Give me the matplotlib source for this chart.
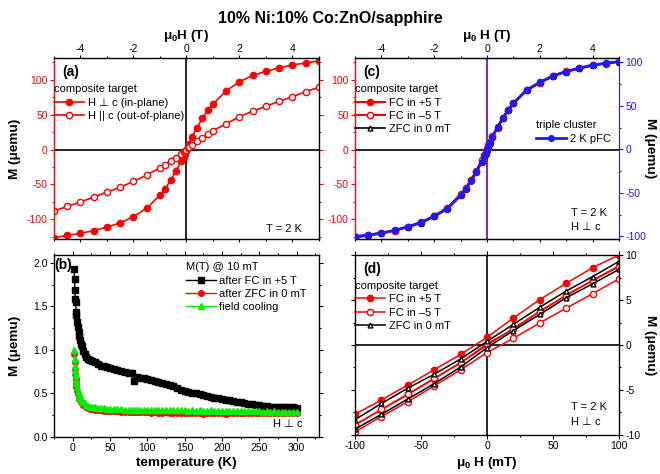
import matplotlib
matplotlib.use('Agg')
import matplotlib.pyplot as plt
from matplotlib import font_manager
from matplotlib.ticker import MultipleLocator, FormatStrFormatter

plt.rcParams['font.family'] = ['Liberation Sans', 'DejaVu Sans']
plt.rcParams['mathtext.default'] = 'regular'
plt.rcParams['axes.unicode_minus'] = False
plt.rcParams['font.size'] = 8

# %% data: (a) M(H) at 2 K, composite target
H_T = [-5, -4.5, -4, -3.5, -3, -2.5, -2, -1.5, -1, -0.8, -0.6, -0.4, -0.2, -0.1, -0.05, 0,
       0.05, 0.1, 0.2, 0.4, 0.6, 0.8, 1, 1.5, 2, 2.5, 3, 3.5, 4, 4.5, 5]
M_inplane = [-126, -123, -120, -116, -111, -105, -96, -84, -65, -56, -44, -31, -17, -10, -6, -2,
             3, 8, 18, 31.5, 44.5, 56, 65, 84, 97, 106, 112, 117, 121, 124, 127]
M_outplane = [-88, -81.5, -75, -68, -61, -54, -45.5, -36.5, -26, -21.5, -17, -12, -7, -4, -2, 0,
              2, 4, 7, 12, 17, 22, 27, 37, 47, 55, 62, 69, 75.5, 83, 89]

# (c) field cooling series + triple cluster (right axis)
M_fc_plus = [-126, -123, -119.5, -116, -111, -105, -95.5, -84.5, -64.5, -56, -44, -32, -17.5, -11, -6, -1,
             4, 9, 18, 31.5, 44.5, 56, 66, 85, 95.5, 105, 111.5, 116, 120.5, 123, 126]
M_fc_minus = [-125, -122, -119, -115.5, -110.5, -104, -95, -83.5, -64, -55, -43, -30, -15, -8, -4, 1,
              6, 11, 19, 32.5, 45.5, 57, 66.5, 85.5, 96.5, 105.5, 112, 116.5, 120.5, 123.5, 126]
M_zfc = [-125.5, -122.5, -119.5, -115.5, -110.5, -104.5, -95, -83.5, -64.5, -55.5, -43.5, -31, -16, -9, -5, 0,
         5, 10, 18.5, 32, 45, 56.5, 66, 85, 96, 105.5, 111.5, 116.5, 120.5, 123.5, 126]
M_triple = [-100, -98.5, -96.5, -93, -89, -84, -77, -68, -53, -45, -36, -25.5, -14, -8, -4, 0,
            4, 8, 14, 25.5, 36, 45, 53, 68, 77, 84.5, 89.5, 93.5, 97, 99, 101]

# (b) M(T) @ 10 mT
T_K = [2, 2.5, 3, 3.5, 4, 4.5, 5, 6, 7, 8, 9, 10, 11, 12, 14, 16, 18, 20, 23, 26, 30, 34, 38, 42, 46, 50,
       55, 60, 65, 70, 75, 80, 82, 86, 90, 95, 100, 105, 110, 115, 120, 125, 130, 135, 140, 145, 150, 155,
       160, 165, 170, 175, 180, 185, 190, 195, 200, 205, 210, 215, 220, 225, 230, 235, 240, 245, 250, 255,
       260, 265, 270, 275, 280, 285, 290, 295, 300]
M_after_fc = [1.93, 1.81, 1.69, 1.59, 1.55, 1.44, 1.40, 1.32, 1.26, 1.21, 1.16, 1.11, 1.07, 1.04, 0.99, 0.95,
              0.92, 0.90, 0.88, 0.87, 0.86, 0.84, 0.82, 0.81, 0.80, 0.79, 0.78, 0.77, 0.76, 0.75, 0.74, 0.73,
              0.64, 0.69, 0.68, 0.675, 0.67, 0.66, 0.645, 0.63, 0.615, 0.605, 0.595, 0.585, 0.565, 0.535,
              0.53, 0.52, 0.51, 0.50, 0.49, 0.48, 0.47, 0.46, 0.45, 0.445, 0.435, 0.43, 0.42, 0.41, 0.405,
              0.40, 0.39, 0.38, 0.375, 0.37, 0.365, 0.36, 0.355, 0.35, 0.35, 0.345, 0.345, 0.34, 0.345,
              0.34, 0.335]
M_after_zfc = [0.95, 0.86, 0.78, 0.72, 0.67, 0.62, 0.58, 0.53, 0.49, 0.46, 0.44, 0.42, 0.40, 0.39, 0.37, 0.355,
               0.345, 0.335, 0.325, 0.32, 0.315, 0.31, 0.305, 0.30, 0.30, 0.30, 0.295, 0.295, 0.29, 0.29,
               0.29, 0.29, 0.285, 0.29, 0.285, 0.285, 0.285, 0.28, 0.285, 0.28, 0.28, 0.285, 0.28, 0.28,
               0.28, 0.28, 0.275, 0.28, 0.28, 0.28, 0.275, 0.265, 0.28, 0.275, 0.28, 0.275, 0.28, 0.265,
               0.275, 0.28, 0.275, 0.275, 0.28, 0.275, 0.275, 0.28, 0.275, 0.275, 0.28, 0.275, 0.275,
               0.28, 0.275, 0.275, 0.28, 0.275, 0.275]
M_field_cool = [1.00, 0.90, 0.82, 0.76, 0.71, 0.66, 0.62, 0.57, 0.53, 0.50, 0.47, 0.45, 0.43, 0.42, 0.40, 0.385,
                0.37, 0.36, 0.35, 0.345, 0.34, 0.335, 0.33, 0.33, 0.325, 0.325, 0.32, 0.32, 0.32, 0.315,
                0.315, 0.315, 0.31, 0.315, 0.31, 0.315, 0.31, 0.31, 0.31, 0.305, 0.31, 0.305, 0.31, 0.305,
                0.305, 0.305, 0.305, 0.30, 0.305, 0.30, 0.305, 0.30, 0.30, 0.305, 0.30, 0.30, 0.30, 0.30,
                0.30, 0.295, 0.30, 0.295, 0.30, 0.295, 0.295, 0.295, 0.295, 0.29, 0.295, 0.29, 0.295,
                0.29, 0.29, 0.29, 0.29, 0.29, 0.29]

# (d) low-field loops
H_mT = [-100, -80, -60, -40, -20, 0, 20, 40, 60, 80, 100]
fcp_up = [-7.7, -6.1, -4.45, -2.75, -1.05, 0.85, 3.0, 5.05, 6.85, 8.6, 10.0]
fcp_down = [-8.85, -7.2, -5.5, -3.75, -1.95, -0.05, 1.85, 3.75, 5.55, 7.2, 8.8]
fcm_up = [-8.9, -7.15, -5.45, -3.7, -2.0, 0.15, 1.75, 3.7, 5.5, 7.15, 8.7]
fcm_down = [-9.65, -7.95, -6.3, -4.55, -2.75, -0.85, 0.75, 2.45, 4.1, 5.7, 7.35]
zfc_up = [-8.3, -6.5, -4.8, -3.25, -1.55, 0.4, 2.3, 4.2, 6.0, 7.6, 9.3]
zfc_down = [-9.35, -7.7, -6.0, -4.3, -2.45, -0.3, 1.6, 3.4, 5.25, 6.8, 8.4]

RED = '#ff0000'
BLUE = '#1a1aff'
GREEN = '#00ee00'
TICK_FS = 7.5
LAB_FS = 9.7

try:
    font_manager.findfont('Liberation Sans Narrow', fallback_to_default=False)
    title_font = dict(family=['Liberation Sans Narrow', 'DejaVu Sans'], fontsize=13)
except ValueError:
    title_font = dict(fontsize=11.5)


def style(ax):
    ax.tick_params(which='both', direction='out', top=True, bottom=True, left=True, right=True,
                   labelsize=TICK_FS, width=0.8, pad=1.5)
    ax.tick_params(which='major', length=3)
    ax.tick_params(which='minor', length=1.6)
    for s in ax.spines.values():
        s.set_linewidth(1.0)


def top_axis(ax, label):
    ax.tick_params(labeltop=True, labelbottom=False)
    ax.tick_params(axis='x', which='major', pad=0.6, length=2.5)
    ax.xaxis.set_label_position('top')
    ax.set_xlabel(label, fontsize=LAB_FS, fontweight='bold')
    ax.xaxis.set_label_coords(0.5, 1.075)
    ax.xaxis.label.set_va('bottom')


fig = plt.figure(figsize=(6.6, 4.74), dpi=100)
fig.text(0.5, 0.962, '10% Ni:10% Co:ZnO/sapphire', ha='center', va='center',
         fontweight='bold', **title_font)

leg_kw = dict(frameon=False, fontsize=8, handlelength=2.7, handletextpad=0.3, labelspacing=0.3,
              borderaxespad=0.2, borderpad=0.2, alignment='left', title_fontsize=8)

# %% (a)
ax = fig.add_axes([0.0818, 0.4958, 0.4015, 0.3818])
style(ax)
ax.axhline(0, color='k', lw=1.2)
ax.axvline(0, color='k', lw=1.2)
ax.plot(H_T, M_inplane, '-o', color=RED, ms=4.5, lw=1.2, label='H ⊥ c (in-plane)')
ax.plot(H_T, M_outplane, '-o', color=RED, mfc='white', ms=4.5, lw=1.2, label='H || c (out-of-plane)')
ax.set_xlim(-5, 5)
ax.set_ylim(-128, 131)
ax.xaxis.set_major_locator(MultipleLocator(2))
ax.xaxis.set_minor_locator(MultipleLocator(1))
ax.yaxis.set_major_locator(MultipleLocator(50))
ax.yaxis.set_minor_locator(MultipleLocator(25))
top_axis(ax, 'μ$_0$H (T)')
ax.set_ylabel('M (μemu)', fontsize=LAB_FS, fontweight='bold', va='center')
ax.yaxis.set_label_coords(-0.147, 0.5)
ax.spines['left'].set_color(RED)
ax.tick_params(axis='y', which='both', colors=RED, right=True)
ax.text(0.03, 0.925, '(a)', transform=ax.transAxes, fontsize=10, fontweight='bold', va='center')
ax.legend(loc='upper left', bbox_to_anchor=(-0.015, 0.88), title='composite target', **leg_kw)
ax.text(0.936, 0.055, 'T = 2 K', transform=ax.transAxes, ha='right', va='center', fontsize=8)

# %% (c)
ax = fig.add_axes([0.5379, 0.4958, 0.4, 0.3818])
style(ax)
ax.axhline(0, color='k', lw=1.2)
ax.axvline(0, color='#7030c0', lw=1.5)
ax.plot(H_T, M_fc_plus, '-o', color=RED, ms=4.5, lw=1.5, label='FC in +5 T')
ax.plot(H_T, M_fc_minus, '-o', color=RED, mfc='white', ms=4.5, lw=1.5, label='FC in –5 T')
ax.plot(H_T, M_zfc, '-^', color='k', mfc='white', ms=3.5, lw=1.2, label='ZFC in 0 mT')
ax.set_xlim(-5, 5)
ax.set_ylim(-128, 131)
ax.xaxis.set_major_locator(MultipleLocator(2))
ax.xaxis.set_minor_locator(MultipleLocator(1))
ax.yaxis.set_major_locator(MultipleLocator(50))
ax.yaxis.set_minor_locator(MultipleLocator(25))
top_axis(ax, 'μ$_0$ H (T)')
ax.spines['left'].set_color(RED)
ax.spines['right'].set_visible(False)
ax.tick_params(axis='y', which='both', colors=RED, right=False)
ax.text(0.03, 0.925, '(c)', transform=ax.transAxes, fontsize=10, fontweight='bold', va='center')
ax.legend(loc='upper left', bbox_to_anchor=(-0.015, 0.88), title='composite target', **leg_kw)
ax.text(0.82, 0.145, 'T = 2 K', transform=ax.transAxes, ha='left', va='center', fontsize=8)
ax.text(0.82, 0.065, 'H ⊥ c', transform=ax.transAxes, ha='left', va='center', fontsize=8)

ax2 = ax.twinx()
ax2.plot(H_T, M_triple, '-o', color=BLUE, ms=4, lw=2, label='2 K pFC')
ax2.set_ylim(-103, 105)
ax2.yaxis.set_major_locator(MultipleLocator(50))
ax2.yaxis.set_minor_locator(MultipleLocator(25))
ax2.tick_params(which='both', direction='out', labelsize=TICK_FS, width=0.8, pad=1.5, colors=BLUE)
ax2.tick_params(which='major', length=3)
ax2.tick_params(which='minor', length=1.6)
ax2.spines['right'].set_color(BLUE)
ax2.spines['left'].set_visible(False)
ax2.set_ylabel('M (μemu)', fontsize=LAB_FS, fontweight='bold', rotation=270, color='k', va='center')
ax2.yaxis.set_label_coords(1.117, 0.5)
ax2.legend(loc='upper right', bbox_to_anchor=(0.985, 0.68), title='triple cluster', **leg_kw)

# %% (b)
ax = fig.add_axes([0.0818, 0.078, 0.4015, 0.384])
style(ax)
ax.plot(T_K, M_after_fc, '-s', color='k', ms=4, lw=1, label='after FC in +5 T')
ax.plot(T_K, M_after_zfc, '-o', color=RED, ms=4, lw=1, label='after ZFC in 0 mT')
ax.plot(T_K, M_field_cool, '-^', color=GREEN, ms=4, lw=1, label='field cooling')
ax.set_xlim(-25, 330)
ax.set_ylim(0, 2.09)
ax.xaxis.set_major_locator(MultipleLocator(50))
ax.xaxis.set_minor_locator(MultipleLocator(25))
ax.yaxis.set_major_locator(MultipleLocator(0.5))
ax.yaxis.set_minor_locator(MultipleLocator(0.25))
ax.yaxis.set_major_formatter(FormatStrFormatter('%.1f'))
ax.set_xlabel('temperature (K)', fontsize=LAB_FS, fontweight='bold', labelpad=3)
ax.set_ylabel('M (μemu)', fontsize=LAB_FS, fontweight='bold', va='center')
ax.yaxis.set_label_coords(-0.147, 0.5)
ax.text(0.0, 0.945, '(b)', transform=ax.transAxes, fontsize=10, fontweight='bold', va='center')
ax.legend(loc='upper right', bbox_to_anchor=(0.97, 0.985), title='M(T) @ 10 mT', **leg_kw)
ax.text(0.94, 0.07, 'H ⊥ c', transform=ax.transAxes, ha='right', va='center', fontsize=8)

# %% (d)
ax = fig.add_axes([0.5379, 0.0823, 0.4, 0.3797])
style(ax)
ax.axhline(0, color='k', lw=1.2)
ax.axvline(0, color='k', lw=1.2)
ax.plot(H_mT, fcp_up, '-o', color=RED, ms=4.5, lw=1.1, label='FC in +5 T')
ax.plot(H_mT, fcp_down, '-o', color=RED, ms=4.5, lw=1.1)
ax.plot(H_mT, fcm_up, '-o', color=RED, mfc='white', ms=4.5, lw=1.1, label='FC in –5 T')
ax.plot(H_mT, fcm_down, '-o', color=RED, mfc='white', ms=4.5, lw=1.1)
ax.plot(H_mT, zfc_up, '-^', color='k', mfc='white', ms=3.5, lw=1.1, label='ZFC in 0 mT')
ax.plot(H_mT, zfc_down, '-^', color='k', mfc='white', ms=3.5, lw=1.1)
ax.set_xlim(-100, 100)
ax.set_ylim(-10, 10)
ax.xaxis.set_major_locator(MultipleLocator(50))
ax.xaxis.set_minor_locator(MultipleLocator(25))
ax.yaxis.set_major_locator(MultipleLocator(5))
ax.yaxis.set_minor_locator(MultipleLocator(2.5))
ax.tick_params(labelleft=False, labelright=True)
ax.yaxis.set_label_position('right')
ax.set_xlabel('μ$_0$ H (mT)', fontsize=LAB_FS, fontweight='bold', labelpad=3)
ax.set_ylabel('M (μemu)', fontsize=LAB_FS, fontweight='bold', rotation=270, va='center')
ax.yaxis.set_label_coords(1.117, 0.5)
ax.text(0.03, 0.925, '(d)', transform=ax.transAxes, fontsize=10, fontweight='bold', va='center')
ax.legend(loc='upper left', bbox_to_anchor=(-0.015, 0.88), title='composite target', **leg_kw)
ax.text(0.82, 0.155, 'T = 2 K', transform=ax.transAxes, ha='left', va='center', fontsize=8)
ax.text(0.82, 0.072, 'H ⊥ c', transform=ax.transAxes, ha='left', va='center', fontsize=8)

fig.savefig('out.png', dpi=100)
